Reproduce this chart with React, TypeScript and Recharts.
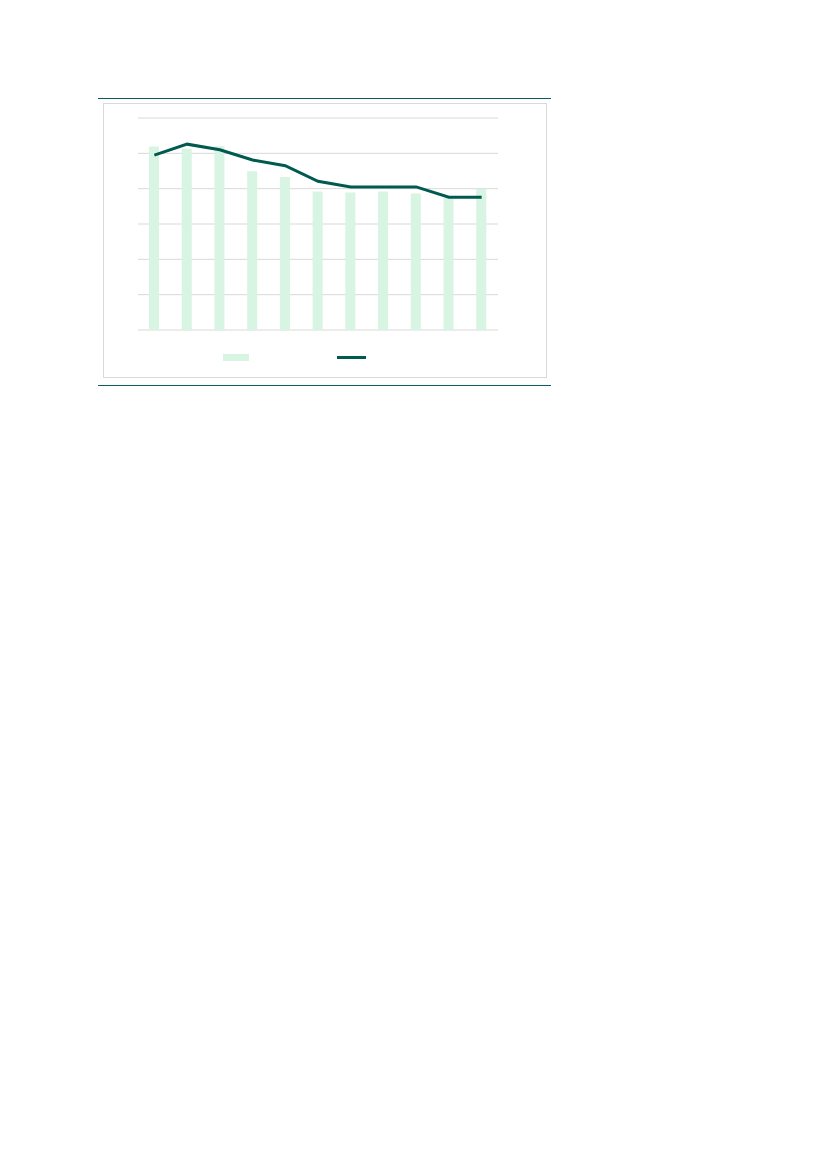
import React from "react";
import { ComposedChart, Bar, Line, XAxis, YAxis, CartesianGrid, Legend } from "recharts";

const categories = ["1", "2", "3", "4", "5", "6", "7", "8", "9", "10", "11"];
const barValues = [5.19, 5.13, 5.2, 4.49, 4.33, 3.92, 3.89, 3.92, 3.86, 3.74, 3.99];
const lineValues = [4.95, 5.26, 5.1, 4.81, 4.65, 4.21, 4.05, 4.05, 4.05, 3.76, 3.76];
const yTicks = [0, 1, 2, 3, 4, 5, 6];

const data = categories.map((c, i) => ({ name: c, bar: barValues[i], line: lineValues[i] }));

const BAR_COLOR = "#d8f4e2";
const LINE_COLOR = "#005a50";

const LegendContent = () => (
  <svg width={444} height={16}>
    <rect x={120} y={4} width={26} height={7} fill={BAR_COLOR} />
    <line x1={234} x2={263} y1={7.5} y2={7.5} stroke={LINE_COLOR} strokeWidth={3} />
  </svg>
);

export default function App() {
  return (
    <div style={{ position: "relative", width: 811, height: 1153 }}>
      <div style={{ position: "absolute", left: 90, top: 90, width: 453, height: 0, borderTop: "1.5px solid #0b5c5c" }} />
      <div
        style={{
          position: "absolute",
          left: 95,
          top: 95,
          width: 444,
          height: 275,
          border: "1px solid #d9d9d9",
          boxSizing: "border-box",
        }}
      />
      <div style={{ position: "absolute", left: 90, top: 377, width: 453, height: 0, borderTop: "1.5px solid #0b5c5c" }} />
      <div style={{ position: "absolute", left: 95, top: 95 }}>
        <ComposedChart width={444} height={275} data={data} margin={{ top: 15, right: 49, bottom: 48, left: 35 }}>
          <CartesianGrid vertical={false} stroke="#d9d9d9" strokeWidth={1} />
          <XAxis dataKey="name" hide />
          <YAxis hide domain={[0, 6]} ticks={yTicks} />
          <Bar dataKey="bar" fill={BAR_COLOR} barSize={10} isAnimationActive={false} />
          <Line
            dataKey="line"
            stroke={LINE_COLOR}
            strokeWidth={3}
            dot={false}
            activeDot={false}
            type="linear"
            isAnimationActive={false}
          />
          <Legend
            layout="horizontal"
            verticalAlign="middle"
            align="center"
            content={LegendContent}
            wrapperStyle={{ position: "absolute", left: 0, top: 247, width: 444, height: 16 }}
          />
        </ComposedChart>
      </div>
    </div>
  );
}
